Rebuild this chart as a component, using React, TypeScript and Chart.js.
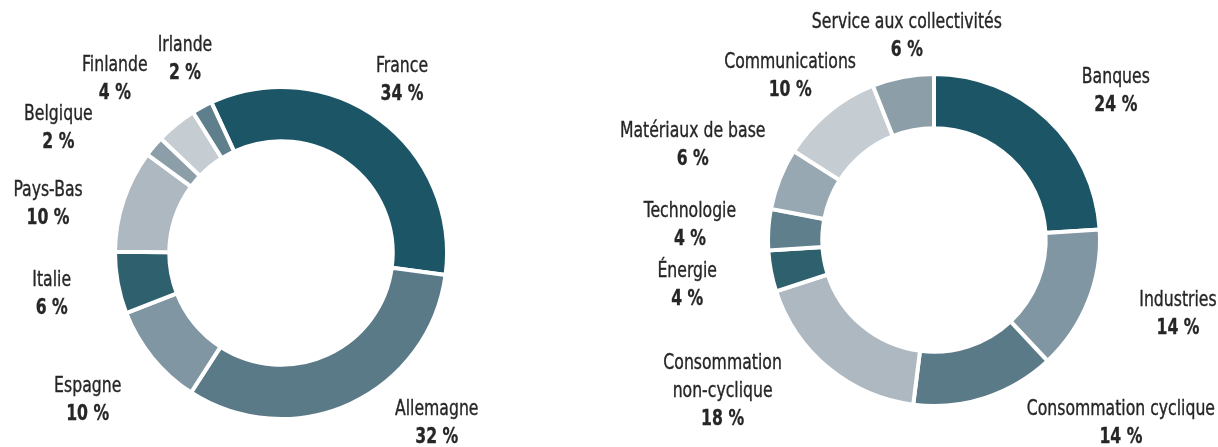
import React, { useEffect, useRef } from "react";
import { Chart, registerables } from "chart.js";

Chart.register(...registerables);

// ---- Data ----
const countryLabels = ["France", "Allemagne", "Espagne", "Italie", "Pays-Bas", "Belgique", "Finlande", "Irlande"];
const countryValues = [34, 32, 10, 6, 10, 2, 4, 2];

const sectorLabels = [
  "Banques",
  "Industries",
  "Consommation cyclique",
  "Consommation\nnon-cyclique",
  "Énergie",
  "Technologie",
  "Matériaux de base",
  "Communications",
  "Service aux collectivités",
];
const sectorValues = [24, 14, 14, 18, 4, 4, 6, 10, 6];

// ---- Styles ----
const countryColors = ["#1c5666", "#5b7a87", "#8096a2", "#2f606e", "#adb8c0", "#8c9fa9", "#c5ccd2", "#607f8c"];
const sectorColors = ["#1c5666", "#8096a2", "#5b7a87", "#adb8c0", "#2f606e", "#607f8c", "#97a8b2", "#c5ccd2", "#8c9fa9"];

// label placement: polar (degrees clockwise from top, distance px from centre)
const countryLabelPolar = [
  [35, 211], [137.6, 231], [232.7, 243], [259.8, 233], [281.8, 238], [299.2, 255], [316.2, 240], [333.6, 216],
];
const sectorLabelPolar = [
  [50.7, 235], [106.9, 255], [134.5, 262], [234.4, 260], [259.5, 251], [273.5, 244.5], [291.3, 259], [318.7, 218], [352.4, 205],
];

const FONT = "'DejaVu Sans Condensed', 'DejaVu Sans', sans-serif";
const TEXT_COLOR = "#262626";
const LINE_H = 28;
const X_SCALE = 0.83;

const outLabels = {
  id: "outLabels",
  afterDraw(chart: any) {
    const opts = chart.options.plugins.outLabels;
    const meta = chart.getDatasetMeta(0);
    const arc0 = meta.data[0];
    if (!arc0) return;
    const cx = arc0.x;
    const cy = arc0.y;
    const ctx = chart.ctx;
    const labels: string[] = chart.data.labels;
    const values: number[] = chart.data.datasets[0].data;
    ctx.save();
    ctx.textAlign = "center";
    ctx.textBaseline = "middle";
    ctx.fillStyle = TEXT_COLOR;
    ctx.strokeStyle = TEXT_COLOR;
    labels.forEach((lab, i) => {
      const [angDeg, dist] = opts.polar[i];
      const a = (angDeg * Math.PI) / 180;
      const x = cx + dist * Math.sin(a);
      const y = cy - dist * Math.cos(a);
      const lines = lab.split("\n");
      const all = [...lines, `${values[i]} %`];
      const n = all.length;
      all.forEach((t, j) => {
        const isPct = j === n - 1;
        ctx.save();
        ctx.font = `${isPct ? "bold " : ""}21px ${FONT}`;
        ctx.translate(x, y + (j - (n - 1) / 2) * LINE_H);
        ctx.scale(X_SCALE, 1);
        ctx.fillText(t, 0, 0);
        ctx.lineWidth = isPct ? 0.3 : 0.35;
        ctx.strokeText(t, 0, 0);
        ctx.restore();
      });
    });
    ctx.restore();
  },
};

function Donut(props: {
  labels: string[];
  values: number[];
  colors: string[];
  polar: number[][];
  rotation: number;
  padding: { left: number; right: number; top: number; bottom: number };
  left: number;
}) {
  const ref = useRef<HTMLCanvasElement | null>(null);
  useEffect(() => {
    if (!ref.current) return;
    const chart = new Chart(ref.current, {
      type: "doughnut",
      data: {
        labels: props.labels,
        datasets: [
          {
            data: props.values,
            backgroundColor: props.colors,
            borderColor: "#ffffff",
            borderWidth: 4,
            borderJoinStyle: "miter",
            hoverOffset: 0,
          } as any,
        ],
      },
      options: {
        animation: false,
        responsive: false,
        maintainAspectRatio: false,
        cutout: "67.3%",
        rotation: props.rotation,
        layout: { padding: props.padding },
        plugins: {
          legend: { display: false },
          tooltip: { enabled: false },
          outLabels: { polar: props.polar },
        } as any,
        events: [],
      },
      plugins: [outLabels],
    });
    return () => chart.destroy();
  }, []);
  return (
    <canvas
      ref={ref}
      width={609}
      height={447}
      style={{ position: "absolute", left: props.left, top: 0, width: 609, height: 447 }}
    />
  );
}

export default function App() {
  return (
    <div style={{ position: "fixed", left: 0, top: 0, width: 1218, height: 447, background: "#fff" }}>
      <Donut
        labels={countryLabels}
        values={countryValues}
        colors={countryColors}
        polar={countryLabelPolar}
        rotation={-24.8}
        padding={{ left: 113, right: 160, top: 85, bottom: 26 }}
        left={0}
      />
      <Donut
        labels={sectorLabels}
        values={sectorValues}
        colors={sectorColors}
        polar={sectorLabelPolar}
        rotation={0}
        padding={{ left: 157, right: 116, top: 72, bottom: 39 }}
        left={609}
      />
    </div>
  );
}
